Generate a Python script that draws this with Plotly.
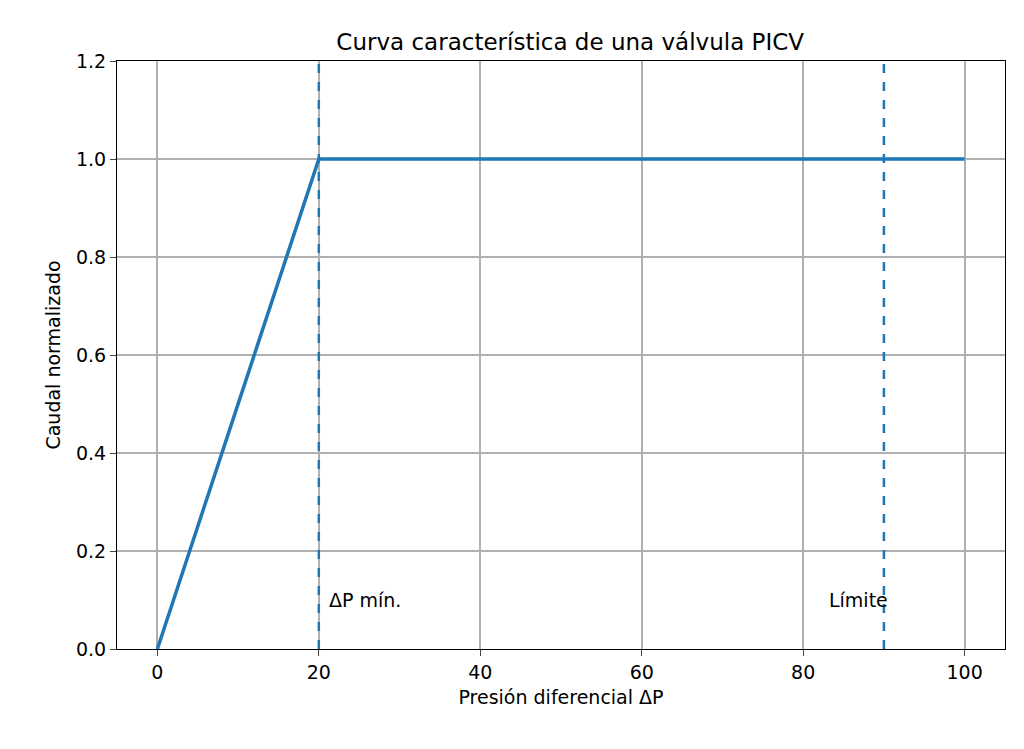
import plotly.graph_objects as go

x_curve = [0, 20, 100]
y_curve = [0, 1, 1]
x_min = 20
x_lim = 90
labels = [("ΔP mín.", 21, 0.1), ("Límite", 83, 0.1)]

blue = "#1f77b4"
fig = go.Figure()
fig.add_trace(go.Scatter(x=x_curve, y=y_curve, mode="lines",
                         line=dict(color=blue, width=3.5), showlegend=False))
for xv in (x_min, x_lim):
    fig.add_shape(type="line", x0=xv, x1=xv, y0=0, y1=1, yref="paper",
                  line=dict(color=blue, width=2.5, dash="dash"))
for txt, xv, yv in labels:
    fig.add_annotation(x=xv, y=yv, text=txt, showarrow=False,
                       xanchor="left", yanchor="middle", font=dict(size=19, color="black"))

axis = dict(showgrid=True, gridcolor="#b0b0b0", gridwidth=1.5, showline=True, mirror=True,
            linecolor="black", linewidth=1.2, ticks="outside", ticklen=6,
            tickfont=dict(size=19, color="black"), zeroline=False)
fig.update_layout(
    width=1024, height=749,
    margin=dict(l=109, r=27, t=53, b=108),
    plot_bgcolor="white", paper_bgcolor="white",
    font=dict(family="DejaVu Sans", color="black"),
    title=dict(text="Curva característica de una válvula PICV", x=0.549, xanchor="center",
               y=0.965, font=dict(size=23)),
    xaxis=dict(axis, range=[-5, 105], tickvals=[0, 20, 40, 60, 80, 100],
               title=dict(text="Presión diferencial ΔP", font=dict(size=19), standoff=8)),
    yaxis=dict(axis, range=[0, 1.2], tickvals=[0, 0.2, 0.4, 0.6, 0.8, 1.0, 1.2],
               tickformat=".1f",
               title=dict(text="Caudal normalizado", font=dict(size=19), standoff=10)),
)
fig.write_html("out.html")
